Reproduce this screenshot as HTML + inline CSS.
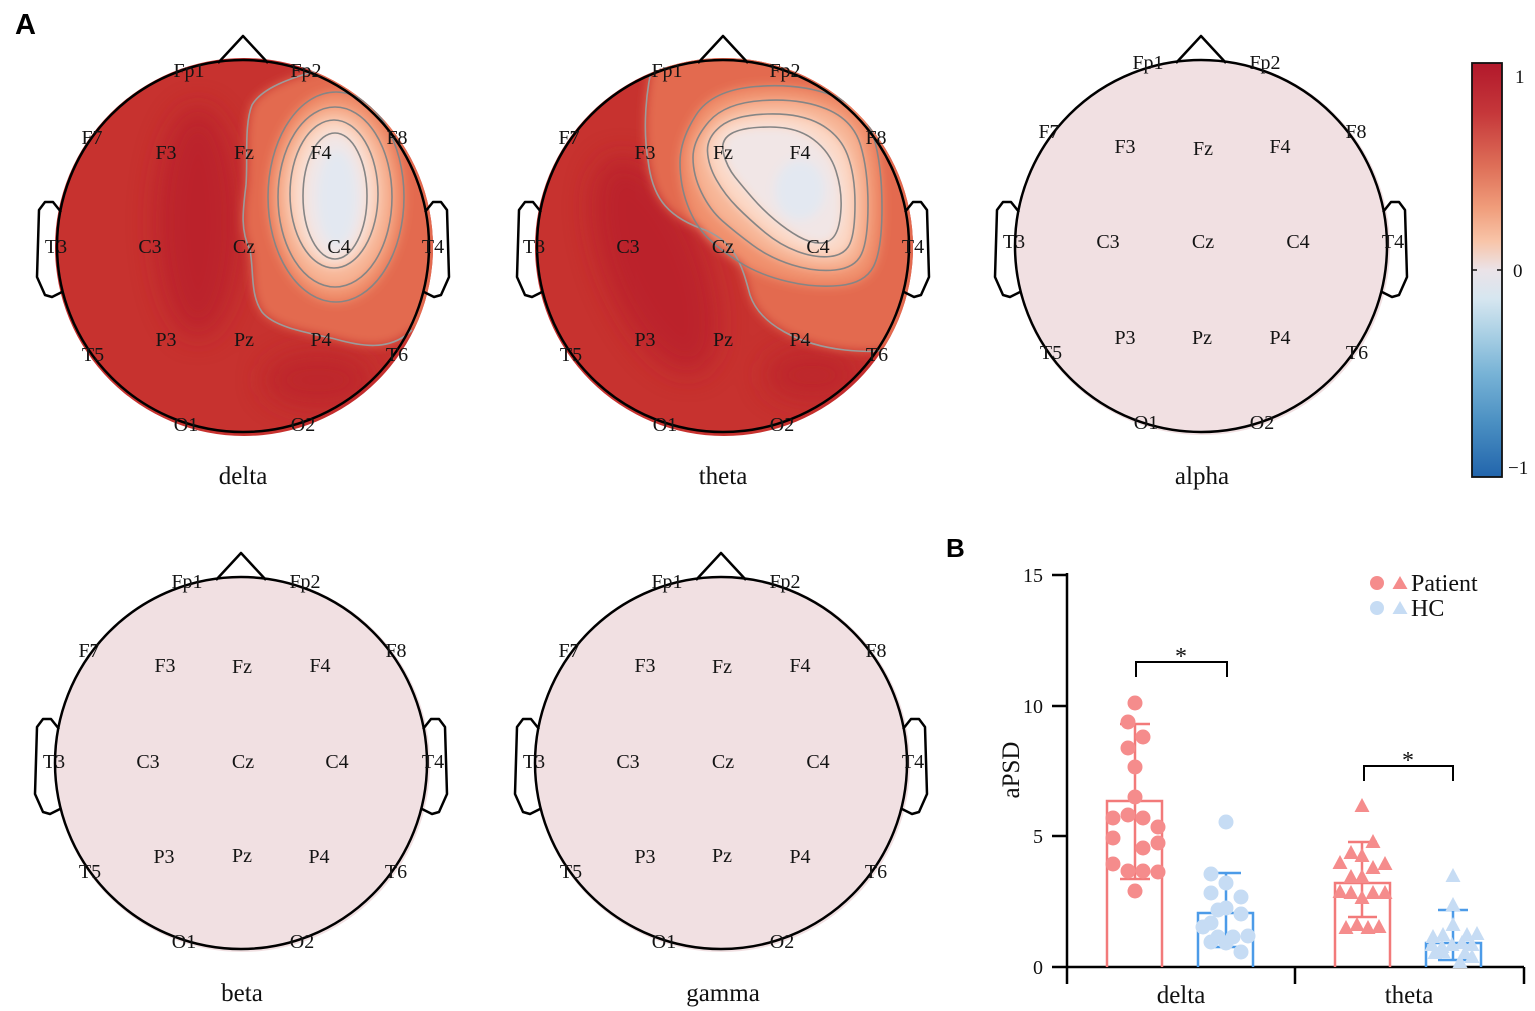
<!DOCTYPE html>
<html><head><meta charset="utf-8"><style>
html,body{margin:0;padding:0;background:#fff;}
svg{display:block;}
.e{font-family:"Liberation Serif",serif;font-size:20px;fill:#141414;text-anchor:middle;}
.t{font-family:"Liberation Serif",serif;font-size:25px;fill:#111;text-anchor:middle;}
.k{font-family:"Liberation Serif",serif;font-size:19px;fill:#111;}
</style></head><body>
<svg width="1535" height="1011" viewBox="0 0 1535 1011" xmlns="http://www.w3.org/2000/svg">
<defs>
<g id="head" fill="none" stroke="#000" stroke-width="2.5" stroke-linejoin="round">
<circle cx="0" cy="0" r="186"/>
<polyline points="-25,-183 0,-210 25,-183"/>
<polyline points="-182,-34 -190,-44 -198,-44 -204,-36 -206,31 -198,49 -191,51 -181,46"/>
<polyline points="182,-34 190,-44 198,-44 204,-36 206,31 198,49 191,51 181,46"/>
</g>
<filter id="b12" x="-50%" y="-50%" width="200%" height="200%"><feGaussianBlur stdDeviation="14"/></filter>
<filter id="b5" x="-50%" y="-50%" width="200%" height="200%"><feGaussianBlur stdDeviation="5"/></filter>
<clipPath id="cD"><circle cx="244" cy="247" r="189"/></clipPath>
<clipPath id="cT"><circle cx="724" cy="247" r="189"/></clipPath>
<linearGradient id="cb" x1="0" y1="0" x2="0" y2="1">
<stop offset="0" stop-color="#b2182b"/>
<stop offset="0.12" stop-color="#c5373a"/>
<stop offset="0.25" stop-color="#de6f58"/>
<stop offset="0.35" stop-color="#f09d7b"/>
<stop offset="0.43" stop-color="#f8c4a8"/>
<stop offset="0.5" stop-color="#ebe3e8"/>
<stop offset="0.57" stop-color="#d6e6f0"/>
<stop offset="0.65" stop-color="#acd1e5"/>
<stop offset="0.75" stop-color="#78b3d6"/>
<stop offset="0.87" stop-color="#4a8fc2"/>
<stop offset="1" stop-color="#2265ac"/>
</linearGradient>
</defs>

<!-- Panel label A -->
<text x="15" y="34" style="font-family:'Liberation Sans',sans-serif;font-weight:bold;font-size:29px;fill:#000">A</text>

<!-- ===== DELTA ===== -->
<circle cx="244" cy="247" r="189" fill="#c7322f"/>
<g clip-path="url(#cD)">
 <g filter="url(#b12)" opacity="0.7">
  <ellipse cx="198" cy="222" rx="42" ry="115" fill="#b71d2b"/>
  <ellipse cx="318" cy="380" rx="55" ry="28" fill="#ba222c"/>
 </g>
 <g filter="url(#b5)">
  <path d="M320,70 C290,78 262,88 252,105 C244,125 248,160 246,185 C243,210 240,230 250,250 C254,270 250,295 262,312 C275,328 310,333 335,339 C360,346 390,352 412,330 L450,330 L450,40 L320,40 Z" fill="#e36a50"/>
  <ellipse cx="336" cy="197" rx="68" ry="105" fill="#f0906d"/>
  <ellipse cx="335" cy="197" rx="57" ry="90" fill="#f7b596"/>
  <ellipse cx="334" cy="194" rx="44" ry="74" fill="#fbd8c6"/>
  <ellipse cx="335" cy="196" rx="32" ry="63" fill="#f1e6e6"/>
  <ellipse cx="337" cy="198" rx="20" ry="48" fill="#e3e8f1"/>
 </g>
 <g fill="none" stroke="#858585" stroke-width="1.6">
  <path d="M320,70 C290,78 262,88 252,105 C244,125 248,160 246,185 C243,210 240,230 250,250 C254,270 250,295 262,312 C275,328 310,333 335,339 C360,346 390,352 412,330" stroke="#9c9c9c"/>
  <ellipse cx="336" cy="197" rx="68" ry="105"/>
  <ellipse cx="335" cy="197" rx="57" ry="90"/>
  <ellipse cx="334" cy="194" rx="44" ry="74"/>
  <ellipse cx="335" cy="196" rx="32" ry="63"/>
 </g>
</g>
<use href="#head" x="243" y="246"/>
<g class="e">
<text x="189" y="77">Fp1</text><text x="306" y="77">Fp2</text>
<text x="92" y="144">F7</text><text x="166" y="159">F3</text><text x="244" y="159">Fz</text><text x="321" y="159">F4</text><text x="397" y="144">F8</text>
<text x="56" y="253">T3</text><text x="150" y="253">C3</text><text x="244" y="253">Cz</text><text x="339" y="253">C4</text><text x="433" y="253">T4</text>
<text x="93" y="361">T5</text><text x="166" y="346">P3</text><text x="244" y="346">Pz</text><text x="321" y="346">P4</text><text x="397" y="361">T6</text>
<text x="186" y="431">O1</text><text x="303" y="431">O2</text>
</g>
<text class="t" x="243" y="484">delta</text>

<!-- ===== THETA ===== -->
<circle cx="724" cy="247" r="189" fill="#c7322f"/>
<g clip-path="url(#cT)">
 <g filter="url(#b12)" opacity="0.7">
  <ellipse cx="655" cy="265" rx="50" ry="115" transform="rotate(-22 655 265)" fill="#b71d2b"/>
  <ellipse cx="812" cy="375" rx="48" ry="26" fill="#ba222c"/>
 </g>
 <g filter="url(#b5)">
  <path d="M655,55 C645,90 643,130 648,160 C652,195 665,215 700,228 C735,240 742,265 750,295 C760,325 800,345 845,350 C865,352 882,353 900,345 L940,345 L940,30 L655,30 Z" fill="#e36a50"/>
  <path d="M696,115 Q712,90 756,86.5 Q800,83 832.5,95.5 Q865,108 873.5,136.5 Q882,165 882,207.5 Q882,250 873.5,266.5 Q865,283 840,285.5 Q815,288 787.5,281.5 Q760,275 740,262.5 Q720,250 707.5,237.5 Q695,225 687.5,205 Q680,185 680,162.5 Q680,140 696,115 Z" fill="#f0906d"/>
  <path d="M709,121.5 Q725,103 762.5,100.5 Q800,98 826.5,109 Q853,120 860.5,145 Q868,170 868,205 Q868,240 861.5,254 Q855,268 835,270 Q815,272 792.5,265 Q770,258 752.5,245 Q735,232 722.5,221 Q710,210 701.5,192.5 Q693,175 693,157.5 Q693,140 709,121.5 Z" fill="#f7b596"/>
  <path d="M721,126 Q735,115 767.5,114 Q800,113 820,124 Q840,135 847.5,155 Q855,175 855,203.5 Q855,232 850,243.5 Q845,255 830,256.5 Q815,258 797.5,251.5 Q780,245 765,232.5 Q750,220 737.5,207.5 Q725,195 716.5,180 Q708,165 707.5,151 Q707,137 721,126 Z" fill="#fbd8c6"/>
  <path d="M731.5,133.5 Q743,127 770,127 Q797,127 813.5,139.5 Q830,152 836,171 Q842,190 841,208.5 Q840,227 835,235 Q830,243 820,243 Q810,243 798.5,236.5 Q787,230 775,220 Q763,210 753,198.5 Q743,187 735,177 Q727,167 723.5,153.5 Q720,140 731.5,133.5 Z" fill="#f1e6e6"/>
  <ellipse cx="800" cy="190" rx="25" ry="30" fill="#e3e8f1"/>
 </g>
 <g fill="none" stroke="#858585" stroke-width="1.6">
  <path d="M655,55 C645,90 643,130 648,160 C652,195 665,215 700,228 C735,240 742,265 750,295 C760,325 800,345 845,350 C865,352 882,353 900,345" stroke="#9c9c9c"/>
  <path d="M696,115 Q712,90 756,86.5 Q800,83 832.5,95.5 Q865,108 873.5,136.5 Q882,165 882,207.5 Q882,250 873.5,266.5 Q865,283 840,285.5 Q815,288 787.5,281.5 Q760,275 740,262.5 Q720,250 707.5,237.5 Q695,225 687.5,205 Q680,185 680,162.5 Q680,140 696,115 Z"/>
  <path d="M709,121.5 Q725,103 762.5,100.5 Q800,98 826.5,109 Q853,120 860.5,145 Q868,170 868,205 Q868,240 861.5,254 Q855,268 835,270 Q815,272 792.5,265 Q770,258 752.5,245 Q735,232 722.5,221 Q710,210 701.5,192.5 Q693,175 693,157.5 Q693,140 709,121.5 Z"/>
  <path d="M721,126 Q735,115 767.5,114 Q800,113 820,124 Q840,135 847.5,155 Q855,175 855,203.5 Q855,232 850,243.5 Q845,255 830,256.5 Q815,258 797.5,251.5 Q780,245 765,232.5 Q750,220 737.5,207.5 Q725,195 716.5,180 Q708,165 707.5,151 Q707,137 721,126 Z"/>
  <path d="M731.5,133.5 Q743,127 770,127 Q797,127 813.5,139.5 Q830,152 836,171 Q842,190 841,208.5 Q840,227 835,235 Q830,243 820,243 Q810,243 798.5,236.5 Q787,230 775,220 Q763,210 753,198.5 Q743,187 735,177 Q727,167 723.5,153.5 Q720,140 731.5,133.5 Z"/>
 </g>
</g>
<use href="#head" x="723" y="246"/>
<g class="e">
<text x="667" y="77">Fp1</text><text x="785" y="77">Fp2</text>
<text x="569" y="144">F7</text><text x="645" y="159">F3</text><text x="723" y="159">Fz</text><text x="800" y="159">F4</text><text x="876" y="144">F8</text>
<text x="534" y="253">T3</text><text x="628" y="253">C3</text><text x="723" y="253">Cz</text><text x="818" y="253">C4</text><text x="913" y="253">T4</text>
<text x="571" y="361">T5</text><text x="645" y="346">P3</text><text x="723" y="346">Pz</text><text x="800" y="346">P4</text><text x="877" y="361">T6</text>
<text x="665" y="431">O1</text><text x="782" y="431">O2</text>
</g>
<text class="t" x="723" y="484">theta</text>

<!-- ===== ALPHA ===== -->
<circle cx="1202" cy="247" r="188" fill="#f1e0e2"/>
<use href="#head" x="1201" y="246"/>
<g class="e">
<text x="1148" y="69">Fp1</text><text x="1265" y="69">Fp2</text>
<text x="1049" y="138">F7</text><text x="1125" y="153">F3</text><text x="1203" y="155">Fz</text><text x="1280" y="153">F4</text><text x="1356" y="138">F8</text>
<text x="1014" y="248">T3</text><text x="1108" y="248">C3</text><text x="1203" y="248">Cz</text><text x="1298" y="248">C4</text><text x="1393" y="248">T4</text>
<text x="1051" y="359">T5</text><text x="1125" y="344">P3</text><text x="1202" y="344">Pz</text><text x="1280" y="344">P4</text><text x="1357" y="359">T6</text>
<text x="1146" y="429">O1</text><text x="1262" y="429">O2</text>
</g>
<text class="t" x="1202" y="484">alpha</text>

<!-- ===== BETA ===== -->
<circle cx="242" cy="764" r="188" fill="#f1e0e2"/>
<use href="#head" x="241" y="763"/>
<g class="e">
<text x="187" y="588">Fp1</text><text x="305" y="588">Fp2</text>
<text x="89" y="657">F7</text><text x="165" y="672">F3</text><text x="242" y="673">Fz</text><text x="320" y="672">F4</text><text x="396" y="657">F8</text>
<text x="54" y="768">T3</text><text x="148" y="768">C3</text><text x="243" y="768">Cz</text><text x="337" y="768">C4</text><text x="433" y="768">T4</text>
<text x="90" y="878">T5</text><text x="164" y="863">P3</text><text x="242" y="862">Pz</text><text x="319" y="863">P4</text><text x="396" y="878">T6</text>
<text x="184" y="948">O1</text><text x="302" y="948">O2</text>
</g>
<text class="t" x="242" y="1001">beta</text>

<!-- ===== GAMMA ===== -->
<circle cx="722" cy="764" r="188" fill="#f1e0e2"/>
<use href="#head" x="721" y="763"/>
<g class="e">
<text x="667" y="588">Fp1</text><text x="785" y="588">Fp2</text>
<text x="569" y="657">F7</text><text x="645" y="672">F3</text><text x="722" y="673">Fz</text><text x="800" y="672">F4</text><text x="876" y="657">F8</text>
<text x="534" y="768">T3</text><text x="628" y="768">C3</text><text x="723" y="768">Cz</text><text x="818" y="768">C4</text><text x="913" y="768">T4</text>
<text x="571" y="878">T5</text><text x="645" y="863">P3</text><text x="722" y="862">Pz</text><text x="800" y="863">P4</text><text x="876" y="878">T6</text>
<text x="664" y="948">O1</text><text x="782" y="948">O2</text>
</g>
<text class="t" x="723" y="1001">gamma</text>

<!-- ===== COLORBAR ===== -->
<rect x="1472" y="63" width="30" height="414" fill="url(#cb)" stroke="#111" stroke-width="1.8"/>
<line x1="1472" y1="270" x2="1477" y2="270" stroke="#111" stroke-width="1.5"/>
<line x1="1497" y1="270" x2="1502" y2="270" stroke="#111" stroke-width="1.5"/>
<text class="k" x="1515" y="83">1</text>
<text class="k" x="1513" y="277">0</text>
<text class="k" x="1508" y="474">−1</text>

<!-- ===== PANEL B ===== -->
<text x="946" y="557" style="font-family:'Liberation Sans',sans-serif;font-weight:bold;font-size:26px;fill:#000">B</text>

<!-- axes -->
<g stroke="#000" stroke-width="2.5" fill="none">
<line x1="1067" y1="573" x2="1067" y2="984"/>
<line x1="1052" y1="967" x2="1524" y2="967"/>
<line x1="1052" y1="575" x2="1067" y2="575"/>
<line x1="1052" y1="706" x2="1067" y2="706"/>
<line x1="1052" y1="836" x2="1067" y2="836"/>
<line x1="1295" y1="967" x2="1295" y2="984"/>
<line x1="1524" y1="967" x2="1524" y2="984"/>
</g>
<g style="font-family:'Liberation Serif',serif;font-size:20px;fill:#111;text-anchor:end">
<text x="1043" y="582">15</text>
<text x="1043" y="713">10</text>
<text x="1043" y="843">5</text>
<text x="1043" y="974">0</text>
</g>
<text class="t" x="1181" y="1003">delta</text>
<text class="t" x="1409" y="1003">theta</text>
<text class="t" transform="translate(1019,770) rotate(-90)" x="0" y="0">aPSD</text>

<!-- bars -->
<g fill="none" stroke-width="2.5">
<polyline points="1107,967 1107,801 1162,801 1162,967" stroke="#f27a7a"/>
<polyline points="1335,967 1335,883 1390,883 1390,967" stroke="#f27a7a"/>
<polyline points="1198,967 1198,913 1253,913 1253,967" stroke="#4c9be8"/>
<polyline points="1426,967 1426,943 1481,943 1481,967" stroke="#4c9be8"/>
<g stroke="#f27a7a">
<line x1="1135" y1="724" x2="1135" y2="879"/><line x1="1120" y1="724" x2="1150" y2="724"/><line x1="1120" y1="879" x2="1150" y2="879"/>
<line x1="1362" y1="842" x2="1362" y2="917"/><line x1="1348" y1="842" x2="1377" y2="842"/><line x1="1348" y1="917" x2="1377" y2="917"/>
</g>
<g stroke="#4c9be8">
<line x1="1226" y1="873" x2="1226" y2="947"/><line x1="1211" y1="873" x2="1241" y2="873"/><line x1="1211" y1="947" x2="1241" y2="947"/>
<line x1="1453" y1="910" x2="1453" y2="960"/><line x1="1438" y1="910" x2="1468" y2="910"/><line x1="1438" y1="960" x2="1468" y2="960"/>
</g>
</g>

<!-- patient delta dots -->
<g fill="#f58c8c">
<circle cx="1135" cy="703" r="7.5"/><circle cx="1128" cy="722" r="7.5"/><circle cx="1143" cy="737" r="7.5"/>
<circle cx="1128" cy="748" r="7.5"/><circle cx="1135" cy="767" r="7.5"/><circle cx="1135" cy="797" r="7.5"/>
<circle cx="1113" cy="818" r="7.5"/><circle cx="1128" cy="815" r="7.5"/><circle cx="1143" cy="818" r="7.5"/>
<circle cx="1158" cy="827" r="7.5"/><circle cx="1113" cy="838" r="7.5"/><circle cx="1143" cy="848" r="7.5"/>
<circle cx="1158" cy="843" r="7.5"/><circle cx="1113" cy="864" r="7.5"/><circle cx="1128" cy="871" r="7.5"/>
<circle cx="1143" cy="871" r="7.5"/><circle cx="1158" cy="872" r="7.5"/><circle cx="1135" cy="891" r="7.5"/>
</g>
<!-- HC delta dots -->
<g fill="#c6dcf4">
<circle cx="1226" cy="822" r="7.5"/><circle cx="1211" cy="874" r="7.5"/><circle cx="1226" cy="883" r="7.5"/>
<circle cx="1211" cy="893" r="7.5"/><circle cx="1241" cy="897" r="7.5"/><circle cx="1226" cy="908" r="7.5"/>
<circle cx="1218" cy="910" r="7.5"/><circle cx="1241" cy="914" r="7.5"/><circle cx="1211" cy="923" r="7.5"/>
<circle cx="1203" cy="927" r="7.5"/><circle cx="1218" cy="937" r="7.5"/><circle cx="1233" cy="937" r="7.5"/>
<circle cx="1248" cy="936" r="7.5"/><circle cx="1211" cy="942" r="7.5"/><circle cx="1226" cy="943" r="7.5"/>
<circle cx="1241" cy="952" r="7.5"/>
</g>
<!-- patient theta triangles -->
<g fill="#f58c8c">
<polygon points="1354.5,812 1369.5,812 1362,798"/>
<polygon points="1365.5,848 1380.5,848 1373,834"/>
<polygon points="1343.5,859 1358.5,859 1351,845"/>
<polygon points="1354.5,862 1369.5,862 1362,848"/>
<polygon points="1332.5,869 1347.5,869 1340,855"/>
<polygon points="1377.5,870 1392.5,870 1385,856"/>
<polygon points="1365.5,874 1380.5,874 1373,860"/>
<polygon points="1343.5,883 1358.5,883 1351,869"/>
<polygon points="1354.5,883 1369.5,883 1362,869"/>
<polygon points="1332.5,898 1347.5,898 1340,884"/>
<polygon points="1343.5,899 1358.5,899 1351,885"/>
<polygon points="1365.5,899 1380.5,899 1373,885"/>
<polygon points="1377.5,899 1392.5,899 1385,885"/>
<polygon points="1354.5,904 1369.5,904 1362,890"/>
<polygon points="1338.5,934 1353.5,934 1346,920"/>
<polygon points="1349.5,931 1364.5,931 1357,917"/>
<polygon points="1360.5,934 1375.5,934 1368,920"/>
<polygon points="1371.5,933 1386.5,933 1379,919"/>
</g>
<!-- HC theta triangles -->
<g fill="#c6dcf4">
<polygon points="1445.5,882 1460.5,882 1453,868"/>
<polygon points="1445.5,911 1460.5,911 1453,897"/>
<polygon points="1445.5,931 1460.5,931 1453,917"/>
<polygon points="1425.5,943 1440.5,943 1433,929"/>
<polygon points="1435.5,941 1450.5,941 1443,927"/>
<polygon points="1459.5,941 1474.5,941 1467,927"/>
<polygon points="1469.5,940 1484.5,940 1477,926"/>
<polygon points="1424.5,951 1439.5,951 1432,937"/>
<polygon points="1434.5,953 1449.5,953 1442,939"/>
<polygon points="1444.5,951 1459.5,951 1452,937"/>
<polygon points="1454.5,949 1469.5,949 1462,935"/>
<polygon points="1464.5,951 1479.5,951 1472,937"/>
<polygon points="1435.5,958 1450.5,958 1443,944"/>
<polygon points="1457.5,959 1472.5,959 1465,945"/>
<polygon points="1452.5,968 1467.5,968 1460,954"/>
<polygon points="1464.5,963 1479.5,963 1472,949"/>
<polygon points="1427.5,959 1442.5,959 1435,945"/>
</g>

<!-- significance brackets -->
<g fill="none" stroke="#000" stroke-width="2">
<polyline points="1136,677 1136,662 1227,662 1227,677"/>
<polyline points="1364,781 1364,766 1453,766 1453,781"/>
</g>
<g style="font-family:'Liberation Serif',serif;font-size:24px;fill:#111;text-anchor:middle">
<text x="1181" y="664">*</text>
<text x="1408" y="768">*</text>
</g>

<!-- legend -->
<circle cx="1377" cy="583" r="7" fill="#f58c8c"/>
<polygon points="1392.5,589 1407.5,589 1400,576" fill="#f58c8c"/>
<circle cx="1377" cy="608" r="7" fill="#c6dcf4"/>
<polygon points="1392.5,614 1407.5,614 1400,601" fill="#c6dcf4"/>
<g style="font-family:'Liberation Serif',serif;font-size:24px;fill:#111">
<text x="1411" y="591">Patient</text>
<text x="1411" y="616">HC</text>
</g>
</svg>
</body></html>
